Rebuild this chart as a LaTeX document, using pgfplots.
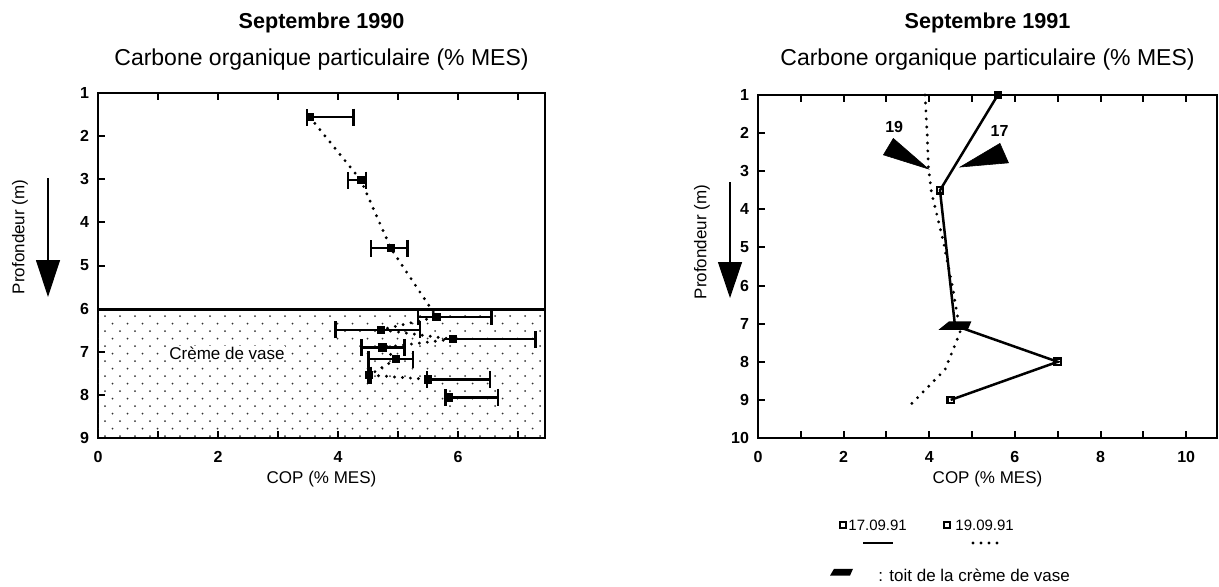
\documentclass[border=0pt]{standalone}
\usepackage{pgfplots}
\pgfplotsset{compat=1.18}
\usepackage{pgfplotstable}
\usepackage{fontspec}
\setmainfont{Liberation Sans}
\usetikzlibrary{patterns,arrows.meta}

\pgfdeclarepatternformonly{sparsedots}{\pgfqpoint{-0.6pt}{-0.6pt}}{\pgfqpoint{4.4pt}{4.4pt}}{\pgfqpoint{7.5pt}{7.5pt}}{%
  \pgfpathcircle{\pgfqpoint{0pt}{0pt}}{0.5pt}%
  \pgfpathcircle{\pgfqpoint{3.75pt}{3.75pt}}{0.5pt}\pgfusepath{fill}}

\pgfdeclareplotmark{toit}{%
  \pgfpathmoveto{\pgfqpoint{-8.2pt}{-2.1pt}}%
  \pgfpathlineto{\pgfqpoint{6.4pt}{-2.1pt}}%
  \pgfpathlineto{\pgfqpoint{8.2pt}{2.1pt}}%
  \pgfpathlineto{\pgfqpoint{-3pt}{2.1pt}}%
  \pgfpathclose\pgfusepathqfill}

\pgfplotstableread{
x y ep em
3.53 1.56 0.73 0.05
4.38 3.02 0.09 0.21
4.88 4.60 0.28 0.33
5.64 6.19 0.92 0.31
4.72 6.49 0.65 0.76
5.91 6.71 1.38 0.00
4.74 6.90 0.37 0.35
4.97 7.17 0.28 0.46
4.52 7.54 0.02 0.02
5.50 7.64 1.03 0.02
5.85 8.06 0.82 0.06
}\dataA

\tikzset{dotline/.style={black, line width=1.6pt, line cap=round, dash pattern=on 0pt off 4pt}}

\pgfplotsset{
  cop/.style={
    scale only axis, y dir=reverse, clip=false,
    axis line style={line width=1.3pt},
    tick style={line width=1pt, black},
    major tick length=3.5pt,
    xtick pos=both, ytick pos=left, tick align=inside,
    /pgf/number format/assume math mode=true,
    ticklabel style={font=\bfseries\fontsize{8}{9}\selectfont},
    xticklabel style={yshift=-3pt},
    yticklabel style={xshift=-1pt},
    label style={font=\fontsize{8.5}{10}\selectfont},
    xlabel={COP (\% MES)},
    ylabel={Profondeur (m)},
    xlabel style={at={(axis description cs:0.5,0)}, anchor=base, yshift=-22.5pt},
  },
}

\begin{document}
\begin{tikzpicture}
\useasboundingbox (0,0) rectangle (609.5pt,293pt);

% titles
\node[anchor=base, font=\bfseries\fontsize{10.8}{13}\selectfont] at (160.75pt,279pt) {Septembre 1990};
\node[anchor=base, font=\fontsize{11.5}{13}\selectfont] at (160.75pt,260.5pt) {Carbone organique particulaire (\% MES)};
\node[anchor=base, font=\bfseries\fontsize{10.8}{13}\selectfont] at (493.75pt,279pt) {Septembre 1991};
\node[anchor=base, font=\fontsize{11.5}{13}\selectfont] at (493.75pt,260.5pt) {Carbone organique particulaire (\% MES)};

% depth arrows
\draw[line width=0.6pt, -{Triangle[length=18.5pt,width=12pt]}] (24pt,204pt) -- (24pt,144.5pt);
\draw[line width=0.6pt, -{Triangle[length=18pt,width=12pt]}] (365pt,202pt) -- (365pt,144pt);

% ---------------- left axis ----------------
\begin{axis}[cop,
  at={(49pt,74pt)}, anchor=south west,
  width=223.5pt, height=172.5pt,
  xmin=0, xmax=7.45, ymin=1, ymax=9,
  xtick={0,...,7}, xticklabels={0,,2,,4,,6,},
  ytick={1,...,9},
  ylabel style={at={(axis description cs:-0.1745,0.583)}, anchor=center},
]
\addplot[draw=none, pattern=sparsedots, pattern color=black!80] coordinates {(0,6) (7.45,6) (7.45,9) (0,9)} --cycle;
\addplot[black, line width=1.2pt] coordinates {(0,6.02) (7.45,6.02)};
\node[font=\fontsize{8.5}{10}\selectfont, fill=white, inner sep=0.3pt] at (axis cs:2.15,7.03) {Crème de vase};
\addplot[dotline] coordinates {(3.53,1.56) (4.38,3.02) (4.88,4.60) (5.64,6.19) (4.72,6.49) (5.91,6.71) (4.74,6.90) (4.97,7.17) (4.52,7.54) (5.50,7.64)};
\addplot[black, only marks, mark=square*, mark size=1.8pt,
  error bars/.cd, x dir=both, x explicit,
  error bar style={line width=1.2pt},
  error mark options={rotate=90, line width=1.2pt, mark size=4.25pt}]
  table[x=x, y=y, x error plus=ep, x error minus=em] {\dataA};
\end{axis}

% ---------------- right axis ----------------
\begin{axis}[cop,
  at={(379pt,74pt)}, anchor=south west,
  width=229.5pt, height=171.5pt,
  xmin=0, xmax=10.72, ymin=1, ymax=10,
  xtick={0,...,10}, xticklabels={0,,2,,4,,6,,8,,10},
  ytick={1,...,10},
  ylabel style={at={(axis description cs:-0.122,0.571)}, anchor=center},
]
% 19.09.91 dotted
\addplot[dotline] coordinates {(3.90,1.0) (3.95,2.0) (3.98,2.9) (4.05,3.55) (4.33,4.85) (4.56,6.14) (4.72,7.22) (4.37,8.2) (3.50,9.2)};
% 17.09.91 solid
\addplot[black, line width=1.25pt, mark=square, mark indices={2,4,5}, mark size=1.6pt,
  mark options={solid, line width=1.1pt, fill=white}]
  coordinates {(5.6,1.0) (4.25,3.5) (4.6,7.05) (7.0,8.0) (4.5,9.0)};
\addplot[black, only marks, mark=square*, mark size=1.6pt] coordinates {(5.6,1.0)};
% roof of the fluid mud
\addplot[black, only marks, mark=toit] coordinates {(4.6,7.05)};
% pointers
\addplot[fill=black, draw=black, line width=0.3pt] coordinates {(3.16,2.14) (2.93,2.57) (3.98,2.94)} --cycle;
\addplot[fill=black, draw=black, line width=0.3pt] coordinates {(5.65,2.27) (5.85,2.78) (4.72,2.89)} --cycle;
\node[font=\bfseries\fontsize{8}{9}\selectfont] at (axis cs:3.18,1.85) {19};
\node[font=\bfseries\fontsize{8}{9}\selectfont] at (axis cs:5.64,1.95) {17};
\end{axis}

% legend
\draw[line width=1pt, fill=white] (420pt,29pt) rectangle (423pt,32pt);
\node[anchor=base west, inner sep=0pt, font=\fontsize{7.5}{9}\selectfont] at (424pt,28pt) {17.09.91};
\draw[line width=1.2pt] (431.5pt,21.5pt) -- (446.5pt,21.5pt);
\draw[line width=1pt, fill=white] (472pt,29pt) rectangle (475pt,32pt);
\node[anchor=base west, inner sep=0pt, font=\fontsize{7.5}{9}\selectfont] at (477.5pt,28pt) {19.09.91};
\draw[dotline] (486.5pt,21.5pt) -- (498.5pt,21.5pt);
\fill (415pt,5.2pt) -- (425pt,5.2pt) -- (426.5pt,8.6pt) -- (417pt,8.6pt) -- cycle;
\node[anchor=base west, inner sep=0pt, font=\fontsize{8.5}{10}\selectfont] at (439pt,2.5pt) {: toit de la crème de vase};
\end{tikzpicture}
\end{document}
